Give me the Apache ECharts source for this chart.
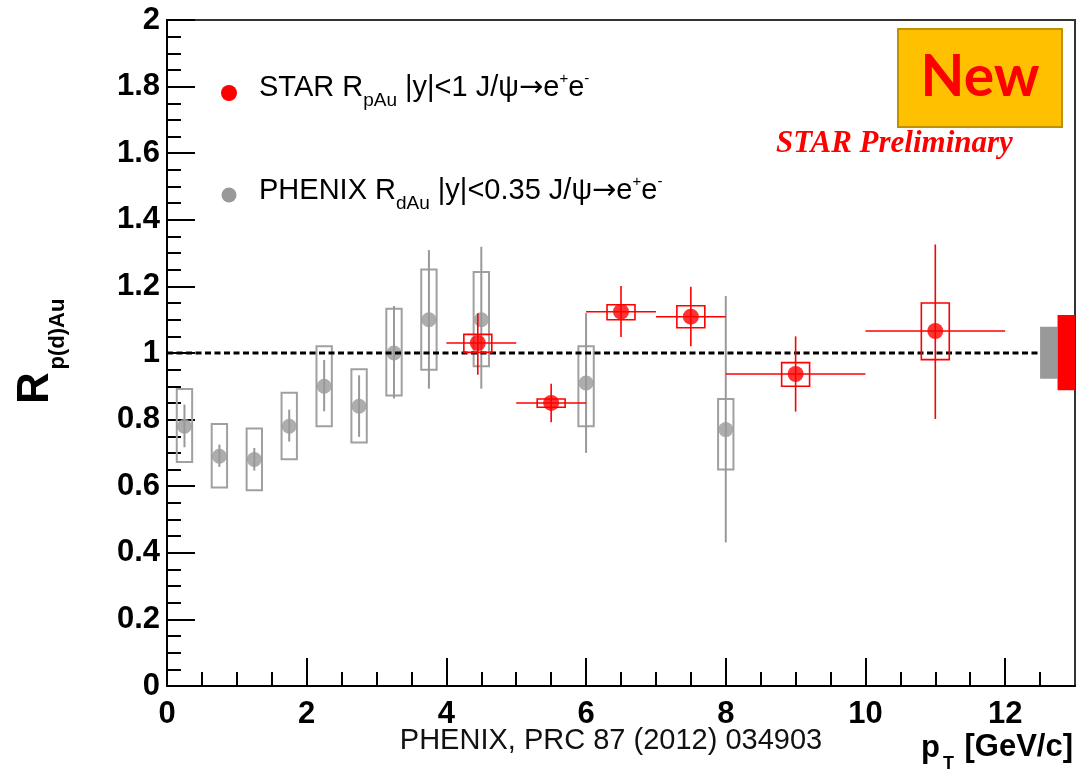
<!DOCTYPE html>
<html>
<head>
<meta charset="utf-8">
<script src="https://cdn.jsdelivr.net/npm/echarts@6/dist/echarts.min.js"></script>
<style>
  html, body { margin: 0; padding: 0; background: #fff; }
  #chart { width: 1089px; height: 779px; }
</style>
</head>
<body>
<div id="chart"></div>
<script>
// PHENIX d+Au, |y|<0.35 (gray): bin centres, values, stat. error ends, syst. box ends
const phenixPt     = [0.25, 0.75, 1.25, 1.75, 2.25, 2.75, 3.25, 3.75, 4.5, 6.0, 8.0];
const phenixVal    = [0.78, 0.69, 0.68, 0.78, 0.90, 0.84, 1.00, 1.10, 1.10, 0.91, 0.77];
const phenixStatLo = [0.717, 0.658, 0.647, 0.734, 0.825, 0.748, 0.863, 0.893, 0.893, 0.70, 0.431];
const phenixStatHi = [0.845, 0.725, 0.715, 0.830, 0.979, 0.933, 1.141, 1.309, 1.319, 1.12, 1.171];
const phenixSysLo  = [0.673, 0.596, 0.588, 0.681, 0.780, 0.731, 0.872, 0.950, 0.960, 0.78, 0.650];
const phenixSysHi  = [0.892, 0.787, 0.773, 0.881, 1.020, 0.951, 1.133, 1.251, 1.243, 1.02, 0.862];

// STAR p+Au, |y|<1 (red): points, bin edges, stat. error ends, syst. box ends
const starPt     = [4.45, 5.5, 6.5, 7.5, 9.0, 11.0];
const starPtLo   = [4, 5, 6, 7, 8, 10];
const starPtHi   = [5, 6, 7, 8, 10, 12];
const starVal    = [1.03, 0.85, 1.124, 1.109, 0.937, 1.066];
const starStatLo = [0.935, 0.792, 1.048, 1.020, 0.824, 0.802];
const starStatHi = [1.119, 0.908, 1.201, 1.199, 1.050, 1.326];
const starSysLo  = [1.002, 0.837, 1.100, 1.076, 0.900, 0.980];
const starSysHi  = [1.056, 0.862, 1.145, 1.142, 0.971, 1.150];

// global normalisation uncertainties: [xLo, xHi, yLo, yHi]
const phenixGlobal = [12.5, 12.75, 0.923, 1.079];
const starGlobal   = [12.75, 13.0, 0.888, 1.114];

// unity reference line
const unityLine = [[0, 1], [12.5, 1]];

// axis ticks
const xMajorTicks = [0, 2, 4, 6, 8, 10, 12];
const xMinorTicks = [0.5, 1, 1.5, 2.5, 3, 3.5, 4.5, 5, 5.5, 6.5, 7, 7.5, 8.5, 9, 9.5, 10.5, 11, 11.5, 12.5];

const GRAY = '#999999';
const RED = '#ff0000';
const FONT = '"Liberation Sans", Arial, Helvetica, sans-serif';

const phenixRows = phenixPt.map((x, i) => [x, phenixVal[i], phenixStatLo[i], phenixStatHi[i], phenixSysLo[i], phenixSysHi[i]]);
const starRows = starPt.map((x, i) => [x, starVal[i], starPtLo[i], starPtHi[i], starStatLo[i], starStatHi[i], starSysLo[i], starSysHi[i]]);

function boxShape(api, x0, x1, y0, y1) {
  const p0 = api.coord([x0, y1]);
  const p1 = api.coord([x1, y0]);
  return { x: p0[0], y: p0[1], width: p1[0] - p0[0], height: p1[1] - p0[1] };
}

function renderPhenix(params, api) {
  const x = api.value(0);
  const top = api.coord([x, api.value(3)]);
  const bot = api.coord([x, api.value(2)]);
  return {
    type: 'group',
    children: [
      { type: 'rect', shape: boxShape(api, x - 0.11, x + 0.11, api.value(4), api.value(5)),
        style: { fill: 'none', stroke: '#a0a0a0', lineWidth: 2 } },
      { type: 'line', shape: { x1: top[0], y1: top[1], x2: bot[0], y2: bot[1] },
        style: { stroke: GRAY, lineWidth: 2 } }
    ]
  };
}

function renderStar(params, api) {
  const x = api.value(0), v = api.value(1);
  const l = api.coord([api.value(2), v]);
  const r = api.coord([api.value(3), v]);
  const top = api.coord([x, api.value(5)]);
  const bot = api.coord([x, api.value(4)]);
  return {
    type: 'group',
    children: [
      { type: 'rect', shape: boxShape(api, x - 0.2, x + 0.2, api.value(6), api.value(7)),
        style: { fill: 'none', stroke: RED, lineWidth: 1.6 } },
      { type: 'line', shape: { x1: l[0], y1: l[1], x2: r[0], y2: r[1] },
        style: { stroke: RED, lineWidth: 1.6 } },
      { type: 'line', shape: { x1: top[0], y1: top[1], x2: bot[0], y2: bot[1] },
        style: { stroke: RED, lineWidth: 1.6 } }
    ]
  };
}

function renderGlobal(params, api) {
  return {
    type: 'rect',
    shape: boxShape(api, api.value(0), api.value(1), api.value(2), api.value(3)),
    style: { fill: api.visual('color') }
  };
}

const chart = echarts.init(document.getElementById('chart'), null, { renderer: 'canvas' });

const legendRich = {
  sub: { fontSize: 19, lineHeight: 19, verticalAlign: 'bottom', fontFamily: FONT, fill: '#000' },
  sup: { fontSize: 15, lineHeight: 15, verticalAlign: 'top', fontFamily: FONT, fill: '#000', padding: [5, 0, 0, 0] },
  arr: { fontSize: 29, lineHeight: 29, fontFamily: '"DejaVu Sans", sans-serif', fill: '#000' }
};

chart.setOption({
  backgroundColor: '#ffffff',
  animation: false,
  grid: {
    left: 167, top: 20, width: 908, height: 666,
    show: true, borderColor: '#333', borderWidth: 2,
    containLabel: false, outerBoundsMode: 'none'
  },
  xAxis: [
    {
      type: 'value', min: 0, max: 13, position: 'bottom',
      splitLine: { show: false },
      axisLine: { show: true, lineStyle: { color: '#000', width: 2 } },
      axisTick: { show: true, inside: true, length: 28, customValues: xMajorTicks,
                  lineStyle: { color: '#000', width: 2 } },
      axisLabel: { show: true, customValues: xMajorTicks, margin: 13,
                   fontSize: 31, fontWeight: 'bold', fontFamily: FONT, color: '#000' }
    },
    {
      type: 'value', min: 0, max: 13, position: 'bottom', gridIndex: 0,
      splitLine: { show: false },
      axisLine: { show: false },
      axisTick: { show: true, inside: true, length: 14, customValues: xMinorTicks,
                  lineStyle: { color: '#000', width: 2 } },
      axisLabel: { show: false }
    }
  ],
  yAxis: {
    type: 'value', min: 0, max: 2, interval: 0.2,
    splitLine: { show: false },
    axisLine: { show: true, lineStyle: { color: '#000', width: 2 } },
    axisTick: { show: true, inside: true, length: 28, lineStyle: { color: '#000', width: 2 } },
    minorTick: { show: true, splitNumber: 4, length: 14, lineStyle: { color: '#000', width: 2 } },
    minorSplitLine: { show: false },
    axisLabel: { margin: 7, fontSize: 31, fontWeight: 'bold', fontFamily: FONT, color: '#000' }
  },
  series: [
    { type: 'custom', name: 'PHENIX sys', renderItem: renderPhenix, data: phenixRows,
      encode: { x: 0, y: [2, 3, 4, 5] }, clip: true, z: 2 },
    { type: 'scatter', name: 'PHENIX', data: phenixPt.map((x, i) => [x, phenixVal[i]]),
      symbol: 'circle', symbolSize: 15, itemStyle: { color: GRAY }, z: 3 },
    { type: 'custom', name: 'PHENIX global', renderItem: renderGlobal, data: [phenixGlobal],
      itemStyle: { color: '#999999' }, encode: { x: [0, 1], y: [2, 3] }, z: 3 },
    { type: 'custom', name: 'STAR global', renderItem: renderGlobal, data: [starGlobal],
      itemStyle: { color: RED }, encode: { x: [0, 1], y: [2, 3] }, z: 3 },
    { type: 'line', name: 'unity', data: unityLine, symbol: 'none', z: 4,
      lineStyle: { color: '#000', width: 3, type: [6, 3.5] } },
    { type: 'custom', name: 'STAR sys', renderItem: renderStar, data: starRows,
      encode: { x: [0, 2, 3], y: [4, 5, 6, 7] }, clip: true, z: 5 },
    { type: 'scatter', name: 'STAR', data: starPt.map((x, i) => [x, starVal[i]]),
      symbol: 'circle', symbolSize: 16, itemStyle: { color: RED }, z: 6 }
  ],
  graphic: [
    // legend markers
    { type: 'circle', shape: { cx: 229, cy: 93, r: 8 }, style: { fill: RED }, z: 10 },
    { type: 'circle', shape: { cx: 229, cy: 195, r: 7.5 }, style: { fill: GRAY }, z: 10 },
    // legend labels
    { type: 'text', x: 259, y: 88, z: 10,
      style: { text: 'STAR R{sub|pAu} |y|<1 J/ψ{arr|→}e{sup|+}e{sup|-}', font: '29px ' + FONT,
               fill: '#000', verticalAlign: 'middle', lineHeight: 44, rich: legendRich } },
    { type: 'text', x: 259, y: 191, z: 10,
      style: { text: 'PHENIX R{sub|dAu} |y|<0.35 J/ψ{arr|→}e{sup|+}e{sup|-}', font: '29px ' + FONT,
               fill: '#000', verticalAlign: 'middle', lineHeight: 44, rich: legendRich } },
    // "New" badge
    { type: 'rect', shape: { x: 898, y: 29, width: 164, height: 98 }, z: 10,
      style: { fill: '#ffc000', stroke: '#bf9000', lineWidth: 2 } },
    { type: 'text', x: 980, y: 78, z: 11,
      style: { text: 'New', font: 'bold 57px Lato, "Open Sans", sans-serif', fill: RED,
               align: 'center', verticalAlign: 'middle' } },
    // preliminary tag
    { type: 'text', x: 776, y: 144, z: 10,
      style: { text: 'STAR Preliminary', font: 'italic bold 31px "Liberation Serif", "Times New Roman", serif',
               fill: RED, align: 'left', verticalAlign: 'middle' } },
    // reference for PHENIX data
    { type: 'text', x: 611, y: 741, z: 10,
      style: { text: 'PHENIX, PRC 87 (2012) 034903', font: '29px ' + FONT, fill: '#111',
               align: 'center', verticalAlign: 'middle' } },
    // x-axis title
    { type: 'text', x: 1073, y: 747, z: 10,
      style: { text: '[GeV/c]', font: 'bold 31px ' + FONT, fill: '#000', align: 'right', verticalAlign: 'middle' } },
    { type: 'text', x: 921, y: 748, z: 10,
      style: { text: 'p', font: 'bold 31px ' + FONT, fill: '#000', align: 'left', verticalAlign: 'middle' } },
    { type: 'text', x: 943, y: 764, z: 10,
      style: { text: 'T', font: 'bold 18px ' + FONT, fill: '#000', align: 'left', verticalAlign: 'middle' } },
    // y-axis title
    { type: 'text', x: 36, y: 388, rotation: Math.PI / 2, z: 10,
      style: { text: 'R', font: 'bold 44px ' + FONT, fill: '#000', align: 'center', verticalAlign: 'middle' } },
    { type: 'text', x: 58, y: 334, rotation: Math.PI / 2, z: 10,
      style: { text: 'p(d)Au', font: 'bold 22px ' + FONT, fill: '#000', align: 'center', verticalAlign: 'middle' } }
  ]
});
</script>
</body>
</html>
